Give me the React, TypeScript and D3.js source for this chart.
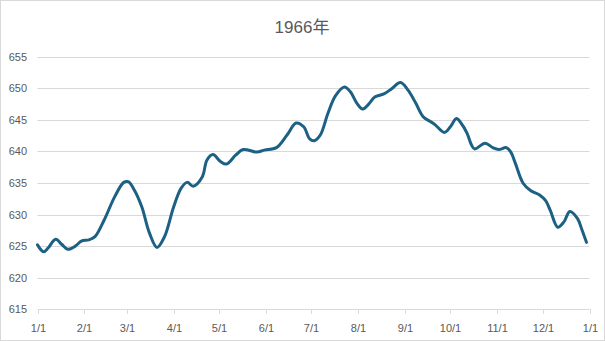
import React from "react";
import * as d3 from "d3";

const dates: string[] = [
  "1966-01-01","1966-01-05","1966-01-08","1966-01-13","1966-01-17","1966-01-21","1966-01-26","1966-01-30",
  "1966-02-04","1966-02-08","1966-02-14","1966-02-21","1966-02-27","1966-03-02","1966-03-06","1966-03-11",
  "1966-03-16","1966-03-21","1966-03-26","1966-04-01","1966-04-06","1966-04-10","1966-04-14","1966-04-20",
  "1966-04-23","1966-04-27","1966-05-02","1966-05-06","1966-05-12","1966-05-17","1966-05-26","1966-05-31",
  "1966-06-08","1966-06-15","1966-06-21","1966-06-26","1966-06-30","1966-07-03","1966-07-07","1966-07-12",
  "1966-07-17","1966-07-23","1966-07-27","1966-07-31","1966-08-04","1966-08-08","1966-08-12","1966-08-18",
  "1966-08-23","1966-08-29","1966-09-03","1966-09-08","1966-09-13","1966-09-18","1966-09-21","1966-09-27",
  "1966-10-01","1966-10-05","1966-10-08","1966-10-12","1966-10-15","1966-10-17","1966-10-24","1966-10-29",
  "1966-11-02","1966-11-07","1966-11-10","1966-11-13","1966-11-18","1966-11-23","1966-11-29","1966-12-03",
  "1966-12-06","1966-12-11","1966-12-15","1966-12-19","1966-12-24","1966-12-27","1966-12-30",
];

const values: number[] = [
  625.2, 624.1, 624.7, 626.1, 625.3, 624.5, 625.0, 625.8,
  626.0, 626.5, 629.1, 632.8, 635.1, 635.2, 633.9, 631.2,
  627.1, 624.8, 626.5, 631.2, 634.2, 635.1, 634.5, 636.0,
  638.6, 639.5, 638.4, 638.0, 639.4, 640.3, 639.9, 640.2,
  640.6, 642.6, 644.5, 643.9, 642.0, 641.7, 642.6, 646.0,
  648.8, 650.2, 649.4, 647.7, 646.7, 647.5, 648.6, 649.1,
  649.9, 650.9, 649.7, 647.7, 645.5, 644.7, 644.2, 643.0,
  643.9, 645.2, 644.5, 642.9, 641.0, 640.4, 641.3, 640.6,
  640.3, 640.6, 639.9, 638.1, 635.0, 633.8, 633.1, 632.2,
  630.7, 628.0, 628.8, 630.5, 629.4, 627.6, 625.6,
];

const yTicks: number[] = [615, 620, 625, 630, 635, 640, 645, 650, 655];
const xTickDates: string[] = [
  "1966-01-01","1966-02-01","1966-03-01","1966-04-01","1966-05-01","1966-06-01",
  "1966-07-01","1966-08-01","1966-09-01","1966-10-01","1966-11-01","1966-12-01","1967-01-01",
];
const xTickLabels: string[] = ["1/1","2/1","3/1","4/1","5/1","6/1","7/1","8/1","9/1","10/1","11/1","12/1","1/1"];
const title = "1966年";

const W = 605;
const H = 341;
const parse = d3.timeParse("%Y-%m-%d");

export default function App() {
  const x = d3.scaleTime()
    .domain([parse("1966-01-01")!, parse("1967-01-01")!])
    .range([37.5, 589.5]);
  const y = d3.scaleLinear().domain([615, 655]).range([309.3, 56.7]);

  const pts = dates.map((d, i) => ({ d: parse(d)!, v: values[i] }));
  const line = d3.line<{ d: Date; v: number }>()
    .x((p) => x(p.d))
    .y((p) => y(p.v))
    .curve(d3.curveCatmullRom.alpha(0.5));

  const font = "'Liberation Sans', Arial, 'Noto Sans CJK SC', sans-serif";

  return (
    <svg width={W} height={H} style={{ position: "absolute", left: 0, top: 0, background: "#fff" }}>
      <rect x={0.5} y={0.5} width={W - 1} height={H - 1} fill="#fff" stroke="#d9d9d9" />
      <text x={302} y={33} textAnchor="middle" fontSize={17} fill="#595959"
        fontFamily="'Liberation Sans', Arial, 'Noto Sans CJK SC', sans-serif">{title}</text>
      {yTicks.map((t) => (
        <g key={t}>
          {t !== 615 && (
            <line x1={37.5} x2={589.5} y1={Math.round(y(t)) + 0.5} y2={Math.round(y(t)) + 0.5}
              stroke="#d9d9d9" strokeWidth={1} />
          )}
          <text x={27} y={y(t) + 4} textAnchor="end" fontSize={11} fill="#595959" fontFamily={font}>{t}</text>
        </g>
      ))}
      <line x1={37.5} x2={589.5} y1={Math.round(y(615)) + 0.5} y2={Math.round(y(615)) + 0.5}
        stroke="#d9d9d9" strokeWidth={1} />
      {xTickDates.map((d, i) => {
        const xp = Math.round(x(parse(d)!)) + 0.5;
        return (
          <g key={d}>
            <line x1={xp} x2={xp} y1={Math.round(y(615))} y2={Math.round(y(615)) + 5} stroke="#d9d9d9" />
            <text x={xp} y={332} textAnchor="middle" fontSize={11} fill="#595959" fontFamily={font}>
              {xTickLabels[i]}
            </text>
          </g>
        );
      })}
      <path d={line(pts) || ""} fill="none" stroke="#1c6084" strokeWidth={3}
        strokeLinejoin="round" strokeLinecap="round" />
    </svg>
  );
}
